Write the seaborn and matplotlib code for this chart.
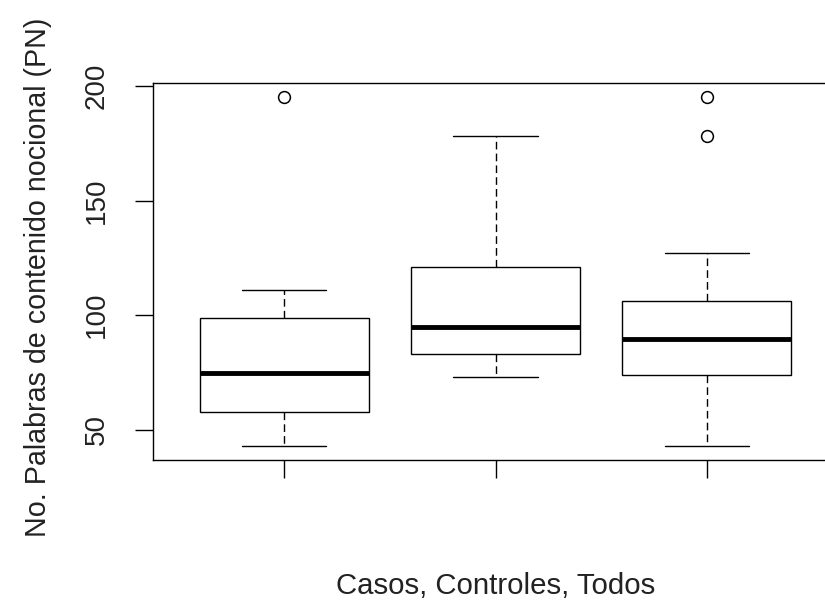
import matplotlib
matplotlib.use("Agg")
import matplotlib.pyplot as plt
import seaborn as sns
import pandas as pd

# Observations reconstructed from the read summary values (hinges, medians, whiskers, outliers)
casos = [43, 58, 58, 75, 75, 99, 99, 111, 195]
controles = [73, 83, 95, 121, 178]
todos = [43, 74, 74, 74, 89.5, 89.5, 89.5, 106, 106, 106, 127, 178, 195]
grupos = ["Casos", "Controles", "Todos"]
yticks = [50, 100, 150, 200]
xlabel = "Casos, Controles, Todos"
ylabel = "No. Palabras de contenido nocional (PN)"

df = pd.DataFrame({
    "grupo": [grupos[0]] * len(casos) + [grupos[1]] * len(controles) + [grupos[2]] * len(todos),
    "valor": casos + controles + todos,
})

sns.set_theme(style="white")
plt.rcParams["font.family"] = ["Liberation Sans", "DejaVu Sans"]

fig = plt.figure(figsize=(8.25, 6), dpi=100)
W, H = 825, 600
left, right, top, bottom = 153, 838, 83.3, 460
ax = fig.add_axes([left / W, 1 - bottom / H, (right - left) / W, (bottom - top) / H])

sns.boxplot(
    data=df, x="grupo", y="valor", ax=ax,
    color="white", linecolor="black", linewidth=1.0, width=0.8, whis=1.5,
    flierprops=dict(marker="o", markerfacecolor="none", markeredgecolor="black",
                    markeredgewidth=1.1, markersize=8.5),
    medianprops=dict(linewidth=3.5, color="black"),
    whiskerprops=dict(linestyle=(0, (5.5, 3)), linewidth=1.0),
    capprops=dict(linewidth=1.0),
)

ax.set_xlim(-0.62, 2.62)
ax.set_ylim(36.92, 201.08)
ax.set_yticks(yticks)
ax.set_yticklabels([str(v) for v in yticks])
ax.set_xticks([0, 1, 2])
ax.set_xticklabels(["", "", ""])

for s in ax.spines.values():
    s.set_visible(True)
    s.set_color("black")
    s.set_linewidth(1.0)

ax.tick_params(axis="both", which="major", direction="out", length=13, width=1.0,
               color="black", labelsize=20, labelcolor="#222222")
ax.tick_params(axis="y", pad=18, left=True)
ax.tick_params(axis="x", bottom=True)
for lab in ax.get_yticklabels():
    lab.set_rotation(90)
    lab.set_va("center")

ax.set_xlabel(xlabel, fontsize=21.2, color="#222222")
ax.set_ylabel(ylabel, fontsize=20.6, color="#222222")
ax.xaxis.set_label_coords(0.5, -0.298)
ax.yaxis.set_label_coords(-0.147, 0.484)

fig.savefig("out.png", dpi=100)
